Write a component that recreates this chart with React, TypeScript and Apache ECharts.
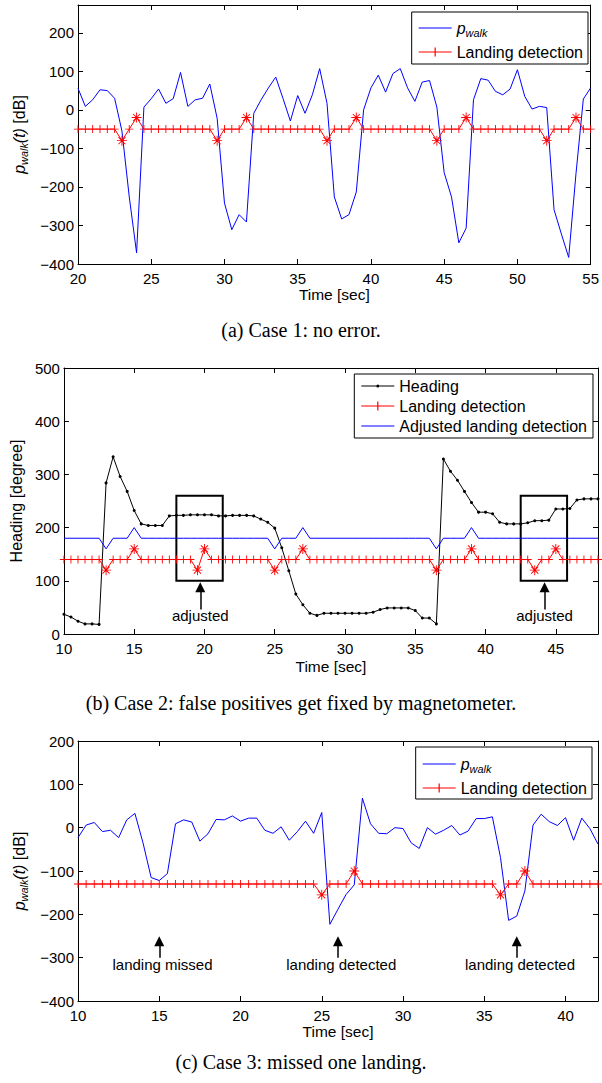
import React, { useEffect, useRef } from "react";
import * as echarts from "echarts";

// ---------------- data ----------------
const time1 = [20,20.5,21,21.5,22,22.5,23,23.5,24,24.5,25,25.5,26,26.5,27,27.5,28,28.5,29,29.5,30,30.5,31,31.5,32,32.5,33,33.5,34,34.5,35,35.5,36,36.5,37,37.5,38,38.5,39,39.5,40,40.5,41,41.5,42,42.5,43,43.5,44,44.5,45,45.5,46,46.5,47,47.5,48,48.5,49,49.5,50,50.5,51,51.5,52,52.5,53,53.5,54,54.5,55];
const pwalk1 = [56,9,26,52,50,30,-55,-226,-371,7,29,54,17,29,97,9,26,30,67,-22,-242,-311,-272,-291,-9,26,57,85,29,-29,37,-9,39,107,17,-226,-283,-272,-213,0,57,90,46,94,107,57,22,72,76,7,-163,-226,-345,-307,26,81,77,48,39,54,104,35,2,9,6,-259,-322,-383,-165,28,57];
const landing1 = [
  -50,-50,-50,-50,-50,-50,-80,-50,-20,-50,
  -50,-50,-50,-50,-50,-50,-50,-50,-50,-80,
  -50,-50,-50,-20,-50,-50,-50,-50,-50,-50,
  -50,-50,-50,-50,-80,-50,-50,-50,-20,-50,
  -50,-50,-50,-50,-50,-50,-50,-50,-50,-80,
  -50,-50,-50,-20,-50,-50,-50,-50,-50,-50,
  -50,-50,-50,-50,-80,-50,-50,-50,-20,-50,
  -50];
const landingBase1 = -50;

const time2 = [10,10.5,11,11.5,12,12.5,13,13.5,14,14.5,15,15.5,16,16.5,17,17.5,18,18.5,19,19.5,20,20.5,21,21.5,22,22.5,23,23.5,24,24.5,25,25.5,26,26.5,27,27.5,28,28.5,29,29.5,30,30.5,31,31.5,32,32.5,33,33.5,34,34.5,35,35.5,36,36.5,37,37.5,38,38.5,39,39.5,40,40.5,41,41.5,42,42.5,43,43.5,44,44.5,45,45.5,46,46.5,47,47.5,48];
const heading2 = [
  37,32,24,19,19,18,284,333,296,268,
  232,207,204,204,204,222,223,223,224,224,
  224,224,222,222,223,223,223,222,216,210,
  199,162,119,75,55,39,35,39,39,39,
  39,39,39,39,41,46,49,49,49,49,
  44,30,30,19,329,306,289,268,247,229,
  229,226,210,207,207,207,209,213,213,214,
  235,235,236,252,254,254,254];
const landing2 = [
  140,140,140,140,140,140,120,140,140,140,
  160,140,140,140,140,140,140,140,140,120,
  160,140,140,140,140,140,140,140,140,140,
  120,140,140,140,160,140,140,140,140,140,
  140,140,140,140,140,140,140,140,140,140,
  140,140,140,120,140,140,140,140,160,140,
  140,140,140,140,140,140,140,120,140,140,
  160,140,140,140,140,140,140];
const landingBase2 = 140;
const adjusted2 = [
  180,180,180,180,180,180,160,180,180,180,
  200,180,180,180,180,180,180,180,180,180,
  180,180,180,180,180,180,180,180,180,180,
  160,180,180,180,200,180,180,180,180,180,
  180,180,180,180,180,180,180,180,180,180,
  180,180,180,160,180,180,180,180,200,180,
  180,180,180,180,180,180,180,180,180,180,
  180,180,180,180,180,180,180];

const time3 = [10,10.5,11,11.5,12,12.5,13,13.5,14,14.5,15,15.5,16,16.5,17,17.5,18,18.5,19,19.5,20,20.5,21,21.5,22,22.5,23,23.5,24,24.5,25,25.5,26,26.5,27,27.5,28,28.5,29,29.5,30,30.5,31,31.5,32,32.5,33,33.5,34,34.5,35,35.5,36,36.5,37,37.5,38,38.5,39,39.5,40,40.5,41,41.5,42];
const pwalk3 = [
  -23,6,12,-9,-6,-23,18,33,-35,-115,
  -122,-106,9,18,13,-31,-14,19,18,27,
  15,22,22,-6,-13,2,-29,-9,15,-13,
  35,-223,-188,-154,-132,68,9,-13,-14,0,
  -2,-35,-48,0,-15,-6,5,-17,-8,21,
  21,25,-69,-214,-204,-146,6,31,14,5,
  23,-29,22,-2,-38];
const landing3 = [
  -130,-130,-130,-130,-130,-130,-130,-130,-130,-130,
  -130,-130,-130,-130,-130,-130,-130,-130,-130,-130,
  -130,-130,-130,-130,-130,-130,-130,-130,-130,-130,
  -155,-130,-130,-130,-100,-130,-130,-130,-130,-130,
  -130,-130,-130,-130,-130,-130,-130,-130,-130,-130,
  -130,-130,-155,-130,-130,-100,-130,-130,-130,-130,
  -130,-130,-130,-130,-130];
const landingBase3 = -130;

// tick labels
const xTicks1 = [20, 25, 30, 35, 40, 45, 50, 55];
const yTicks1 = [-400, -300, -200, -100, 0, 100, 200];
const xTicks2 = [10, 15, 20, 25, 30, 35, 40, 45];
const yTicks2 = [0, 100, 200, 300, 400, 500];
const xTicks3 = [10, 15, 20, 25, 30, 35, 40];
const yTicks3 = [-400, -300, -200, -100, 0, 100, 200];

// annotations (data coordinates)
const adjustedBoxes = [[18, 100, 21.3, 260], [42.5, 100, 45.8, 260]];
const adjustedArrows = [19.7, 44.2];
const landingArrows3 = [
  { t: 15, text: "landing missed" },
  { t: 26, text: "landing detected" },
  { t: 37, text: "landing detected" },
];

const captions = [
  "(a) Case 1: no error.",
  "(b) Case 2: false positives get fixed by magnetometer.",
  "(c) Case 3: missed one landing.",
];

// ---------------- styles ----------------
const SANS = "'Liberation Sans', Arial, Helvetica, sans-serif";
const SERIF = "'Liberation Serif', 'Times New Roman', Times, serif";
const PLUS = "path://M-0.55,-5H0.55V-0.55H5V0.55H0.55V5H-0.55V0.55H-5V-0.55H-0.55Z";
const STAR =
  "path://M-0.45,-5H0.45V-0.45H5V0.45H0.45V5H-0.45V0.45H-5V-0.45H-0.45Z M-3.85,-3.21L-3.21,-3.85L3.85,3.21L3.21,3.85Z M3.21,-3.85L3.85,-3.21L-3.21,3.85L-3.85,3.21Z";
const ICON_LINE = "path://M0,0H33V1.2H0Z";
const ICON_PLUS = "path://M0,6.4H33V7.6H0Z M15.9,2.5H17.1V11.5H15.9Z";
const ICON_DOT = "path://M0,6.4H33V7.6H0Z M15,7A1.5,1.5 0 1 1 18,7A1.5,1.5 0 1 1 15,7Z";

const RED = "#ff0000";
const BLUE = "#0000ff";

const fmt = (v: number) => (v < 0 ? "\u2212" + Math.abs(v) : String(v));

const makeRich = (size: number, lh: number) => ({
  i: { fontFamily: SANS, fontStyle: "italic", fontSize: size, color: "#000", lineHeight: lh },
  s: { fontFamily: SANS, fontStyle: "italic", fontSize: size * 0.68, color: "#000", lineHeight: lh, padding: [9, 0, 0, 0] },
  t: { fontFamily: SANS, fontStyle: "italic", fontSize: size, color: "#000", lineHeight: lh },
  n: { fontFamily: SANS, fontSize: size, color: "#000", lineHeight: lh },
});

function buildOption() {
  const grid = [
    { left: 78, top: 5, width: 516, height: 259 },
    { left: 63, top: 368, width: 535, height: 266 },
    { left: 78, top: 741, width: 520, height: 260 },
  ];
  const xAxis: any[] = [];
  const yAxis: any[] = [];
  const line = { show: true, onZero: false, lineStyle: { color: "#000", width: 1 } };
  const tick = { inside: true, length: 5, lineStyle: { color: "#000", width: 1 } };
  const lbl = { color: "#000", fontFamily: SANS, fontSize: 15, lineHeight: 12, formatter: fmt };
  const axisRich = makeRich(16, 18);

  function addAxes(gi: number, xr: number[], xt: number[], yr: number[], yt: number[], yName: string, yGap: number, xGap: number) {
    xAxis.push({
      type: "value", gridIndex: gi, position: "bottom", min: xr[0], max: xr[1],
      axisLine: line, splitLine: { show: false },
      axisTick: { ...tick, customValues: xt },
      axisLabel: { ...lbl, customValues: xt, margin: 8 },
      name: "Time [sec]", nameLocation: "middle", nameGap: xGap,
      nameTextStyle: { color: "#000", fontFamily: SANS, fontSize: 15.5 },
    });
    xAxis.push({
      type: "value", gridIndex: gi, position: "top", min: xr[0], max: xr[1],
      axisLine: line, splitLine: { show: false },
      axisTick: { ...tick, customValues: xt }, axisLabel: { show: false },
    });
    yAxis.push({
      type: "value", gridIndex: gi, position: "left", min: yr[0], max: yr[1],
      axisLine: line, splitLine: { show: false },
      axisTick: { ...tick, customValues: yt },
      axisLabel: { ...lbl, customValues: yt, margin: 4 },
      name: yName, nameLocation: "middle", nameGap: yGap,
      nameTextStyle: { color: "#000", fontFamily: SANS, fontSize: 16, rich: axisRich },
    });
    yAxis.push({
      type: "value", gridIndex: gi, position: "right", min: yr[0], max: yr[1],
      axisLine: line, splitLine: { show: false },
      axisTick: { ...tick, customValues: yt }, axisLabel: { show: false },
    });
  }
  const pName = "{i|p}{s|walk}{t|(t)}{n| [dB]}";
  addAxes(0, [20, 55], xTicks1, [-400, 272], yTicks1, pName, 42, 21);
  addAxes(1, [10, 48], xTicks2, [0, 500], yTicks2, "Heading [degree]", 32, 24);
  addAxes(2, [10, 42], xTicks3, [-400, 200], yTicks3, pName, 42, 22);

  const pairs = (t: number[], v: number[]) => t.map((x, i) => [x, v[i]]);
  const marked = (t: number[], v: number[], base: number) =>
    t.map((x, i) => ({
      value: [x, v[i]],
      symbol: v[i] === base ? PLUS : STAR,
      symbolSize: v[i] === base ? 8 : 10,
    }));

  const lineSeries = (name: string, gi: number, data: any[], color: string, extra: any = {}) => ({
    type: "line", name, xAxisIndex: 2 * gi, yAxisIndex: 2 * gi, data,
    lineStyle: { color, width: 1 }, itemStyle: { color, borderWidth: 0 },
    showSymbol: false, symbol: "none", emphasis: { disabled: true }, silent: true,
    ...extra,
  });
  const landingSeries = (gi: number, t: number[], v: number[], base: number) =>
    lineSeries("Landing detection", gi, marked(t, v, base), RED, {
      showSymbol: true, symbol: PLUS, symbolSize: 8, z: 3,
    });

  const annoLabel = { color: "#000", fontFamily: SANS, fontSize: 15 };
  const arrowLine = {
    silent: true, symbol: ["none", "triangle"], symbolSize: 10,
    lineStyle: { color: "#000", width: 1.5, type: "solid" }, label: { show: false },
    itemStyle: { color: "#000" }, emphasis: { disabled: true },
  };
  const textPoints = {
    silent: true, symbol: "rect", symbolSize: 1, itemStyle: { color: "rgba(0,0,0,0)" },
    label: { show: true, position: "inside", formatter: "{b}", ...annoLabel },
  };

  const series: any[] = [
    lineSeries("p_walk", 0, pairs(time1, pwalk1), BLUE),
    landingSeries(0, time1, landing1, landingBase1),

    lineSeries("Heading", 1, pairs(time2, heading2), "#000", {
      showSymbol: true, symbol: "circle", symbolSize: 3,
      markArea: {
        silent: true,
        itemStyle: { color: "rgba(0,0,0,0)", borderColor: "#000", borderWidth: 2 },
        label: { show: false },
        data: adjustedBoxes.map((b) => [{ coord: [b[0], b[1]] }, { coord: [b[2], b[3]] }]),
      },
      markLine: {
        ...arrowLine,
        data: adjustedArrows.map((x) => [{ coord: [x, 46] }, { coord: [x, 88] }]),
      },
      markPoint: {
        ...textPoints,
        data: adjustedArrows.map((x) => ({ name: "adjusted", coord: [x, 34] })),
      },
    }),
    landingSeries(1, time2, landing2, landingBase2),
    lineSeries("Adjusted landing detection", 1, pairs(time2, adjusted2), BLUE, { z: 4 }),

    lineSeries("p_walk", 2, pairs(time3, pwalk3), BLUE, {
      markLine: {
        ...arrowLine,
        data: landingArrows3.map((a) => [{ coord: [a.t, -300] }, { coord: [a.t, -262] }]),
      },
      markPoint: {
        ...textPoints,
        data: landingArrows3.map((a) => ({ name: a.text, coord: [a.t + 0.2, -316] })),
      },
    }),
    landingSeries(2, time3, landing3, landingBase3),
  ];

  const legendBase = {
    orient: "vertical", backgroundColor: "#fff", borderColor: "#000", borderWidth: 1,
    itemWidth: 33, itemHeight: 14, selectedMode: false, align: "left",
    textStyle: { color: "#000", fontFamily: SANS, fontSize: 16, lineHeight: 18, rich: makeRich(16, 18) },
    formatter: (name: string) => (name === "p_walk" ? "{i|p}{s|walk}" : name),
  };
  const legend = [
    { ...legendBase, right: 14, top: 12, padding: [6, 5, 3, 7], itemGap: 5,
      data: [{ name: "p_walk", icon: ICON_LINE }, { name: "Landing detection", icon: ICON_PLUS }] },
    { ...legendBase, right: 9, top: 374, padding: [3, 6, 3, 7], itemGap: 2,
      data: [{ name: "Heading", icon: ICON_DOT }, { name: "Landing detection", icon: ICON_PLUS },
        { name: "Adjusted landing detection", icon: ICON_LINE }] },
    { ...legendBase, right: 10, top: 747, padding: [7, 5, 2, 7], itemGap: 5,
      data: [{ name: "p_walk", icon: ICON_LINE }, { name: "Landing detection", icon: ICON_PLUS }] },
  ];

  const capTops = [320, 693, 1052];
  const title = captions.map((c, i) => ({
    text: c, left: "center", top: capTops[i], padding: 0,
    textStyle: { fontFamily: SERIF, fontSize: 20, fontWeight: "normal", color: "#000" },
  }));

  return { animation: false, backgroundColor: "#fff", title, grid, xAxis, yAxis, legend, series };
}

export default function App() {
  const ref = useRef<HTMLDivElement>(null);
  useEffect(() => {
    const chart = echarts.init(ref.current as HTMLDivElement, null, { renderer: "svg" });
    chart.setOption(buildOption() as any);
    return () => chart.dispose();
  }, []);
  return (
    <div
      ref={ref}
      style={{ position: "absolute", left: 0, top: 0, width: 602, height: 1083, background: "#fff" }}
    />
  );
}
